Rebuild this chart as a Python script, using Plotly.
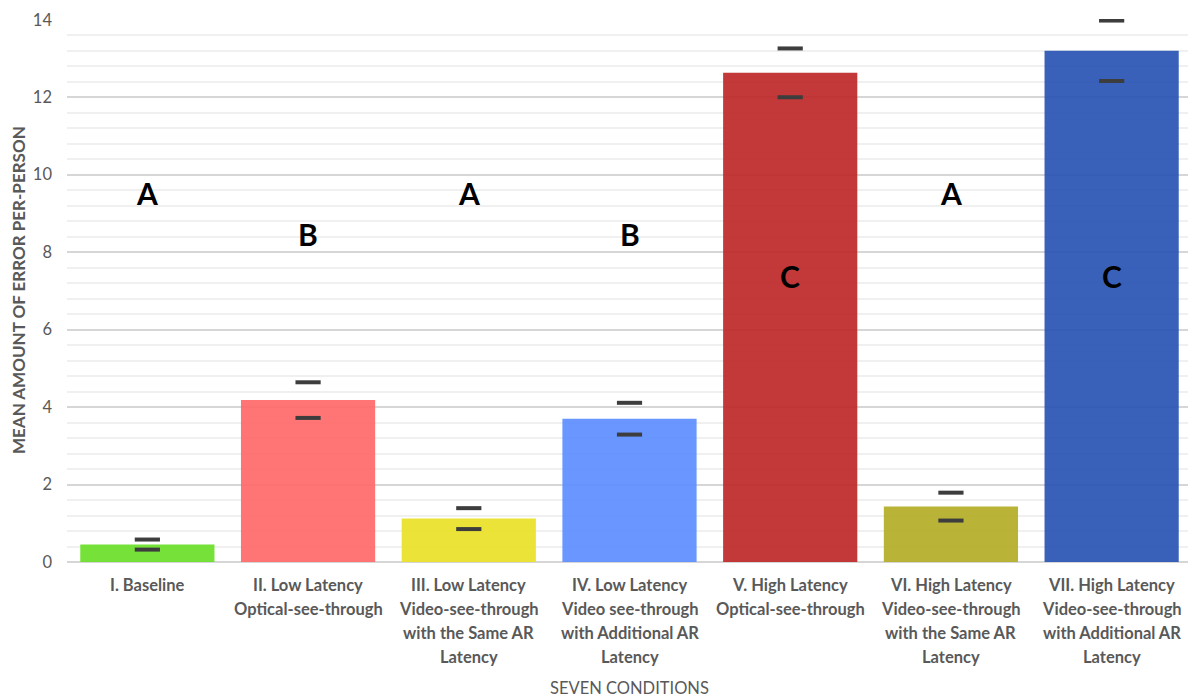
import plotly.graph_objects as go

# Data
conditions = [
    "I. Baseline",
    "II. Low Latency<br>Optical-see-through",
    "III. Low Latency<br>Video-see-through<br>with the Same AR<br>Latency",
    "IV. Low Latency<br>Video see-through<br>with Additional AR<br>Latency",
    "V. High Latency<br>Optical-see-through",
    "VI. High Latency<br>Video-see-through<br>with the Same AR<br>Latency",
    "VII. High Latency<br>Video-see-through<br>with Additional AR<br>Latency",
]
mean_error = [0.45, 4.18, 1.12, 3.70, 12.63, 1.43, 13.20]
std_error = [0.13, 0.46, 0.27, 0.41, 0.63, 0.36, 0.78]
groups = ["A", "B", "A", "B", "C", "A", "C"]
y_ticks = [0, 2, 4, 6, 8, 10, 12, 14]

colors = ['#6ce02a', '#ff6a6a', '#e9e128', '#5f8eff', '#be2a2a', '#b4ae28', '#2b55b5']
group_y = {"A": 9.54, "B": 8.47, "C": 7.38}
label_color = "#595959"

fig = go.Figure()

fig.add_trace(go.Bar(
    x=conditions,
    y=mean_error,
    marker=dict(color=colors, opacity=0.93, line=dict(width=0)),
    showlegend=False,
    hoverinfo='y'
))

# error caps only (no stems), drawn as short horizontal dashes
upper = [m + e for m, e in zip(mean_error, std_error)]
lower = [m - e for m, e in zip(mean_error, std_error)]
fig.add_trace(go.Scatter(
    x=conditions + conditions,
    y=upper + lower,
    mode='markers',
    marker=dict(symbol='line-ew-open', size=18, color='#3d3d3d',
                line=dict(width=4, color='#3d3d3d')),
    showlegend=False,
    hoverinfo='skip'
))

# significance group letters
for cond, g in zip(conditions, groups):
    fig.add_annotation(
        x=cond, y=group_y[g], text="<b>" + g + "</b>", showarrow=False,
        font=dict(family="Lato", size=30, color="black")
    )

# category labels, one annotation per line for wider line spacing
for cond in conditions:
    for i, line in enumerate(cond.split("<br>")):
        fig.add_annotation(
            x=cond, xref='x', y=0, yref='paper', yanchor='middle',
            yshift=-(22.5 + 24 * i), text="<b>" + line + "</b>", showarrow=False,
            font=dict(family="Lato", size=16.5, color=label_color)
        )

# axis titles
fig.add_annotation(
    x=0.5, xref='paper', y=0, yref='paper', yanchor='middle', yshift=-125.5,
    text="SEVEN CONDITIONS", showarrow=False,
    font=dict(family="Lato", size=16.5, color=label_color)
)
fig.add_annotation(
    x=0, xref='paper', xanchor='center', xshift=-48.5, y=0.5, yref='paper',
    text="<b>MEAN AMOUNT OF ERROR PER-PERSON</b>", textangle=-90, showarrow=False,
    font=dict(family="Lato", size=17, color=label_color)
)

fig.update_layout(
    width=1196, height=699,
    margin=dict(l=58.6, r=12, t=11, b=144.5, autoexpand=False),
    plot_bgcolor='white', paper_bgcolor='white',
    bargap=0.165,
    font=dict(family="Lato", color=label_color),
    xaxis=dict(showticklabels=False, showline=False, ticks='', automargin=False),
    yaxis=dict(
        range=[0, 14.02],
        tickvals=y_ticks,
        tickfont=dict(size=16.5, color=label_color),
        ticklabelstandoff=14,
        ticklabeloverflow='allow',
        automargin=False,
        showgrid=True, gridcolor='#d6d6d6', gridwidth=2,
        zeroline=True, zerolinecolor='#d6d6d6', zerolinewidth=2,
        minor=dict(dtick=0.4, showgrid=True, gridcolor='#f0f0f0', gridwidth=1.5),
        ticks='',
    ),
)

fig.write_html("out.html")
